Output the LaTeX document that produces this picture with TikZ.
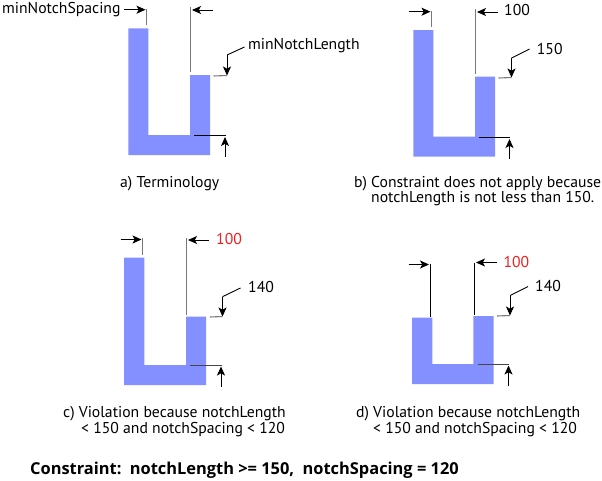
\documentclass[tikz,border=0pt]{standalone}
\usepackage{fontspec}
\setmainfont{PT Sans}
\newfontfamily\boldfam{Open Sans}
\usetikzlibrary{arrows.meta}
\definecolor{notch}{RGB}{132,144,255}
\definecolor{extgray}{RGB}{120,120,120}
\definecolor{floorgray}{RGB}{70,70,70}
\definecolor{valred}{RGB}{240,30,30}
\tikzset{
  x=1pt,y=-1pt,
  shapefill/.style={fill=notch,draw=none},
  extline/.style={draw=extgray,line width=1.1pt},
  extblack/.style={draw=black,line width=0.9pt},
  floorline/.style={draw=floorgray,line width=0.9pt},
  dimarrow/.style={draw=black,line width=0.9pt,-{Stealth[length=9pt,width=8pt,inset=2.2pt]}},
  leader/.style={draw=black,line width=0.9pt},
  txt/.style={anchor=base west,inner sep=0pt,font=\fontsize{15.7}{18}\selectfont},
  boldtxt/.style={anchor=base west,inner sep=0pt,font=\fontsize{16.4}{18}\boldfam\bfseries\selectfont},
}
\begin{document}
\begin{tikzpicture}
\useasboundingbox (0,0) rectangle (602,480);
% shapes
\fill[shapefill] (128.3,28.3) -- (148.3,28.3) -- (148.3,135) -- (190,135) -- (190,75) -- (210,75) -- (210,155) -- (128.3,155) -- cycle;
\fill[shapefill] (413.3,30) -- (433.3,30) -- (433.3,136.7) -- (475,136.7) -- (475,76.7) -- (495,76.7) -- (495,156.7) -- (413.3,156.7) -- cycle;
\fill[shapefill] (124,257.7) -- (144.3,257.7) -- (144.3,365) -- (186,365) -- (186,316.7) -- (206,316.7) -- (206,385) -- (124,385) -- cycle;
\fill[shapefill] (412,317.7) -- (432.3,317.7) -- (432.3,364) -- (473.3,364) -- (473.3,316) -- (493.7,316) -- (493.7,384) -- (412,384) -- cycle;

% panel a
\node[txt] (aspacing) at (2,13.5) {minNotchSpacing};
\node[txt] (alength) at (248,49.5) {minNotchLength};
\node[txt] (acap) at (120,187) {a) Terminology};
\coordinate (al1) at (146.7,9); \coordinate (al2) at (146.7,25);
\coordinate (ar1) at (190.7,7); \coordinate (ar2) at (190.7,72);
\coordinate (ar3) at (213,10); \coordinate (ar4) at (192,10);
\coordinate (ae0) at (244.5,47); \coordinate (ae1) at (227,55); \coordinate (ae2) at (227,75.5); \coordinate (ae3) at (213.5,76);
\coordinate (af1) at (194,135.5); \coordinate (af2) at (225.5,135.5);
\coordinate (af3) at (225,156.5); \coordinate (af4) at (225,137);
\coordinate (as1) at (124,9.7); \coordinate (as2) at (145.5,9.7);
\draw[extline] (al1) -- (al2);
\draw[extline] (ar1) -- (ar2);
\draw[dimarrow] (as1) -- (as2);
\draw[dimarrow] (ar3) -- (ar4);
\draw[leader] (ae0) -- (ae1);
\draw[dimarrow] (ae1) -- (ae2);
\draw[extline] (ae3) -- (ae2);
\draw[leader] (af1) -- (af2);
\draw[dimarrow] (af3) -- (af4);

% panel b
\node[txt] (bspacing) at (504,15.7) {100};
\node[txt] (blength) at (536.7,54) {150};
\node[txt] (bcap1) at (354,187) {b) Constraint does not apply because};
\node[txt] (bcap2) at (371,202.5) {notchLength is not less than 150.};
\coordinate (bl1) at (431.7,11); \coordinate (bl2) at (431.7,27);
\coordinate (br1) at (475.7,9); \coordinate (br2) at (475.7,74);
\coordinate (bs1) at (409.3,11.7); \coordinate (bs2) at (430.5,11.7);
\coordinate (br3) at (498,12); \coordinate (br4) at (477,12);
\coordinate (be0) at (529.5,49); \coordinate (be1) at (511.5,58); \coordinate (be2) at (511.5,77.5); \coordinate (be3) at (498.5,78);
\coordinate (bf1) at (479,137.5); \coordinate (bf2) at (510,137.5);
\coordinate (bf3) at (509.5,158.5); \coordinate (bf4) at (509.5,139);
\draw[extline] (bl1) -- (bl2);
\draw[extline] (br1) -- (br2);
\draw[dimarrow] (bs1) -- (bs2);
\draw[dimarrow] (br3) -- (br4);
\draw[leader] (be0) -- (be1);
\draw[dimarrow] (be1) -- (be2);
\draw[extline] (be3) -- (be2);
\draw[leader] (bf1) -- (bf2);
\draw[dimarrow] (bf3) -- (bf4);

% panel c
\node[txt,text=valred] (cspacing) at (216,244) {100};
\node[txt] (clength) at (248,292.7) {140};
\node[txt] (ccap1) at (63,417) {c) Violation because notchLength};
\node[txt] (ccap2) at (81,433) {< 150 and notchSpacing < 120};
\coordinate (cl1) at (142.7,238); \coordinate (cl2) at (142.7,255);
\coordinate (cr1) at (186.7,238); \coordinate (cr2) at (186.7,315);
\coordinate (cs1) at (120.6,239.5); \coordinate (cs2) at (141.5,239.5);
\coordinate (cr3) at (209,240); \coordinate (cr4) at (188,240);
\coordinate (ce0) at (240.5,288); \coordinate (ce1) at (222.5,296.7); \coordinate (ce2) at (222.5,316.5); \coordinate (ce3) at (210,317);
\coordinate (cf1) at (190,365); \coordinate (cf2) at (221.5,365);
\coordinate (cf3) at (221,386.5); \coordinate (cf4) at (221,366.5);
\draw[extline] (cl1) -- (cl2);
\draw[extline] (cr1) -- (cr2);
\draw[dimarrow] (cs1) -- (cs2);
\draw[dimarrow] (cr3) -- (cr4);
\draw[leader] (ce0) -- (ce1);
\draw[dimarrow] (ce1) -- (ce2);
\draw[extline] (ce3) -- (ce2);
\draw[floorline] (cf1) -- (cf2);
\draw[dimarrow] (cf3) -- (cf4);

% panel d
\node[txt,text=valred] (dspacing) at (503.3,267.3) {100};
\node[txt] (dlength) at (535,291.7) {140};
\node[txt] (dcap1) at (356,417) {d) Violation because notchLength};
\node[txt] (dcap2) at (373,433) {< 150 and notchSpacing < 120};
\coordinate (dl1) at (430.3,264); \coordinate (dl2) at (430.3,317);
\coordinate (dr1) at (474.3,263); \coordinate (dr2) at (474.3,315);
\coordinate (ds1) at (408.5,264.5); \coordinate (ds2) at (429,264.5);
\coordinate (dr3) at (497,262.5); \coordinate (dr4) at (476,262.5);
\coordinate (de0) at (528,286.5); \coordinate (de1) at (510,295.5); \coordinate (de2) at (510,315.5); \coordinate (de3) at (497,316);
\coordinate (df1) at (478,364); \coordinate (df2) at (509,364);
\coordinate (df3) at (508.5,385.5); \coordinate (df4) at (508.5,365.5);
\draw[extblack] (dl1) -- (dl2);
\draw[extblack] (dr1) -- (dr2);
\draw[dimarrow] (ds1) -- (ds2);
\draw[dimarrow] (dr3) -- (dr4);
\draw[leader] (de0) -- (de1);
\draw[dimarrow] (de1) -- (de2);
\draw[extline] (de3) -- (de2);
\draw[floorline] (df1) -- (df2);
\draw[dimarrow] (df3) -- (df4);

% constraint line
\node[boldtxt] (constraint) at (30,474) {Constraint:\ \ notchLength >= 150,\ \ notchSpacing = 120};
\end{tikzpicture}
\end{document}
